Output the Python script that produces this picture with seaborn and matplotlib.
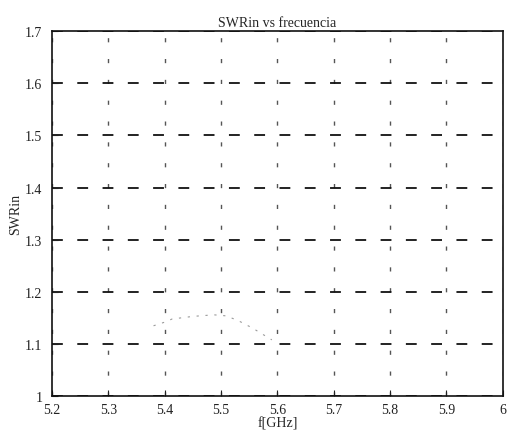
import matplotlib
matplotlib.use('Agg')
import matplotlib.pyplot as plt
import seaborn as sns
import pandas as pd

# values (curve mostly faded)
freq_ghz = [5.38, 5.40, 5.413, 5.45, 5.487, 5.509, 5.53, 5.555, 5.59]
swr_in = [1.135, 1.142, 1.148, 1.153, 1.156, 1.154, 1.145, 1.131, 1.108]

x_ticks = [5.2, 5.3, 5.4, 5.5, 5.6, 5.7, 5.8, 5.9, 6.0]
x_labels = ['5.2', '5.3', '5.4', '5.5', '5.6', '5.7', '5.8', '5.9', '6']
y_ticks = [1.0, 1.1, 1.2, 1.3, 1.4, 1.5, 1.6, 1.7]
y_labels = ['1', '1.1', '1.2', '1.3', '1.4', '1.5', '1.6', '1.7']

sns.set_style('ticks')
plt.rcParams['font.family'] = ['Liberation Serif', 'DejaVu Serif']

df = pd.DataFrame({'f': freq_ghz, 'swr': swr_in})

fig = plt.figure(figsize=(5.11, 4.35), dpi=100)
ax = fig.add_axes([0.102, 0.087, 0.882, 0.839])

sns.lineplot(data=df, x='f', y='swr', ax=ax, color='#9a9a9a', linewidth=0.8,
             linestyle=(0, (2, 6)))

ax.set_xlim(5.2, 6.0)
ax.set_ylim(1.0, 1.7)
ax.set_xticks(x_ticks)
ax.set_xticklabels(x_labels)
ax.set_yticks(y_ticks)
ax.set_yticklabels(y_labels)
ax.tick_params(direction='in', length=4, labelsize=10, colors='#222222')
ax.tick_params(axis='x', pad=5)
ax.tick_params(axis='y', pad=7)

# horizontal grid is strong, vertical grid is faint in the scan
ax.grid(axis='y', color='#111111', linestyle=(0, (6, 8)), linewidth=1.3)
ax.grid(axis='x', color='#555555', linestyle=(0, (3, 12)), linewidth=1.0)

for side in ['top', 'bottom', 'left', 'right']:
    ax.spines[side].set_visible(True)
    ax.spines[side].set_color('#111111')
    ax.spines[side].set_linewidth(1.2)

ax.set_title('SWRin vs frecuencia', fontsize=10, pad=4)
ax.set_xlabel('f[GHz]', fontsize=10, labelpad=0)
ax.set_ylabel('SWRin', fontsize=10, labelpad=2)

plt.savefig('out.png', dpi=100)
plt.close(fig)
